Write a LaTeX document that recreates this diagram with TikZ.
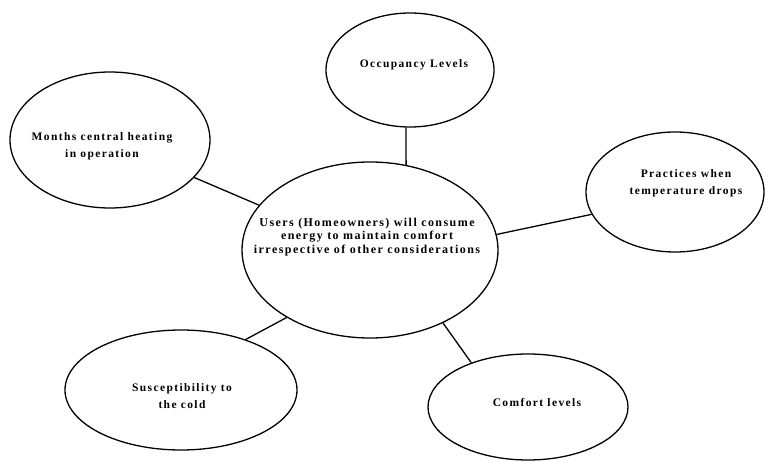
\documentclass[tikz,border=0pt]{standalone}
\usepackage{fontspec}
\setmainfont{Liberation Serif}[LetterSpace=12]
\usetikzlibrary{shapes.geometric}

\begin{document}
\begin{tikzpicture}[x=1pt,y=-1pt,
		bubble/.style={draw,ellipse,line width=1.3pt,inner sep=0pt},
		txt/.style={align=center,font=\fontsize{11.5}{17}\selectfont\bfseries,inner sep=0pt}]
		\useasboundingbox (0,0) rectangle (766,462);
		% bubbles
		\node[bubble,minimum width=256pt,minimum height=176pt] (cen) at (370,250) {};
		\node[bubble,minimum width=168pt,minimum height=114pt] (occ) at (410,70) {};
		\node[bubble,minimum width=200pt,minimum height=136pt] (mon) at (110,140) {};
		\node[bubble,minimum width=178pt,minimum height=120pt] (pra) at (675,192) {};
		\node[bubble,minimum width=232pt,minimum height=120pt] (sus) at (181,390) {};
		\node[bubble,minimum width=200pt,minimum height=106pt] (com) at (528,407) {};
		% texts
		\node[txt,font=\fontsize{12}{13.5}\selectfont\bfseries] (cen-txt) at (367,237) {Users (Homeowners) will consume\\energy to maintain comfort\\irrespective of other considerations};
		\node[txt] (occ-txt) at (414,65) {Occupancy Levels};
		\node[txt] (mon-txt) at (102,146) {Months central heating\\in operation};
		\node[txt] (pra-txt) at (686,183) {Practices when\\temperature drops};
		\node[txt] (sus-txt) at (182,396) {Susceptibility to\\the cold};
		\node[txt] (com-txt) at (537,403) {Comfort levels};
		% links
		\draw[line width=1.3pt] (occ.266) -- (cen.67);
		\draw[line width=1.3pt] (mon.336) -- (cen.158);
		\draw[line width=1.3pt] (pra.195) -- (cen.7);
		\draw[line width=1.3pt] (sus.38) -- (cen.219);
		\draw[line width=1.3pt] (com.142) -- (cen.315);
	\end{tikzpicture}
\end{document}
